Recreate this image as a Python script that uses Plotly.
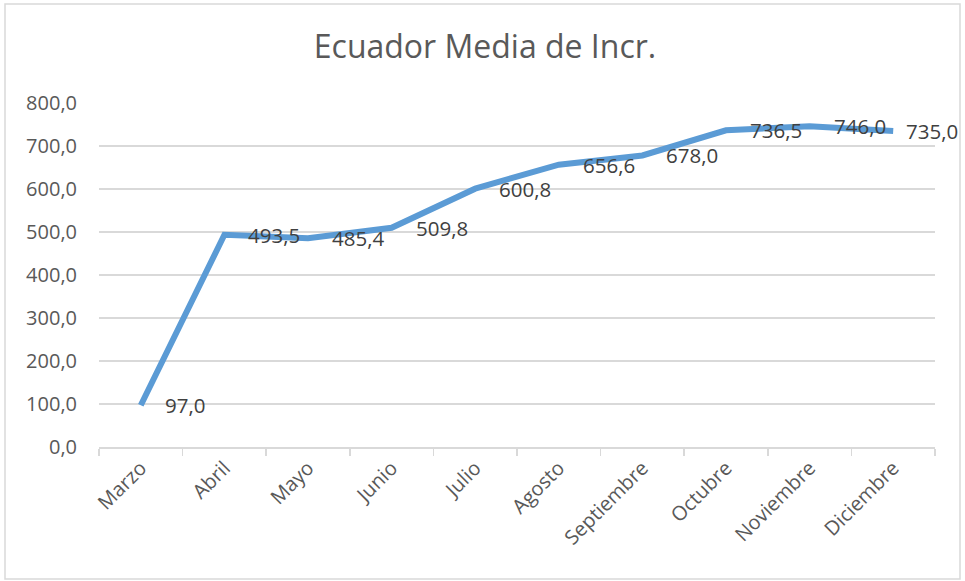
import plotly.graph_objects as go

months = ["Marzo", "Abril", "Mayo", "Junio", "Julio", "Agosto",
          "Septiembre", "Octubre", "Noviembre", "Diciembre"]
values = [97.0, 493.5, 485.4, 509.8, 600.8, 656.6, 678.0, 736.5, 746.0, 735.0]
y_ticks = [0, 100, 200, 300, 400, 500, 600, 700, 800]
title_text = "Ecuador Media de Incr."

FONT = "Open Sans"
GRAY = "#595959"
LABEL_SIZE = 20.5

W, H = 965, 581
PL, PR, PT, PB = 99, 935, 103, 447     # plot box in page pixels
CHART_RIGHT = 956                       # labels are kept inside the chart area
pw, ph = PR - PL, PB - PT
L, T = PL, PT
R, B = W - PR, H - PB

fig = go.Figure()
fig.add_trace(go.Scatter(
    x=months, y=values, mode="lines",
    line=dict(color="#5B9BD5", width=6),
    hoverinfo="skip", showlegend=False,
))

n = len(months)
for i, (m, v) in enumerate(zip(months, values)):
    txt = f"{v:.1f}".replace(".", ",")
    px = PL + (i + 0.5) * pw / n
    est_w = LABEL_SIZE * (0.572 * sum(c.isdigit() for c in txt) + 0.26)
    shift = min(22, CHART_RIGHT - px - est_w)
    fig.add_annotation(
        x=m, y=v, xref="x", yref="y", text=txt,
        showarrow=False, xanchor="left", yanchor="middle", xshift=shift,
        font=dict(family=FONT, size=LABEL_SIZE, color="#404040"),
    )

# outer chart border
fig.add_shape(
    type="rect", xref="paper", yref="paper",
    x0=(5 - PL) / pw, x1=(960 - PL) / pw,
    y0=(PB - 579) / ph, y1=(PB - 4) / ph,
    line=dict(color="#d9d9d9", width=1.5), layer="below",
)

fig.update_layout(
    width=W, height=H,
    margin=dict(l=L, r=R, t=T, b=B),
    paper_bgcolor="white", plot_bgcolor="white",
    separators=",.",
    title=dict(text=title_text, x=485 / W, xref="container", xanchor="center",
               y=1 - 47 / H, yref="container", yanchor="middle",
               font=dict(family=FONT, size=32, color=GRAY)),
    xaxis=dict(
        type="category", categoryorder="array", categoryarray=months,
        range=[-0.5, n - 0.5],
        tickangle=-45, tickson="boundaries", ticks="outside", ticklen=7,
        tickcolor="#d9d9d9", tickwidth=1.5, showline=True, linecolor="#d9d9d9", linewidth=1.5,
        showgrid=False, zeroline=False,
        tickfont=dict(family=FONT, size=20, color=GRAY),
    ),
    yaxis=dict(
        range=[0, 800], tickmode="array", tickvals=y_ticks,
        tickformat=".1f", showgrid=True, gridcolor="#d9d9d9", gridwidth=1.5,
        zeroline=False, showline=False, ticks="", ticklabelstandoff=21,
        tickfont=dict(family=FONT, size=20, color=GRAY),
    ),
)

fig.write_html(
    "out.html",
    config={"displayModeBar": False, "staticPlot": True},
    post_script="document.body.style.margin='0';document.body.style.overflow='hidden';",
)
